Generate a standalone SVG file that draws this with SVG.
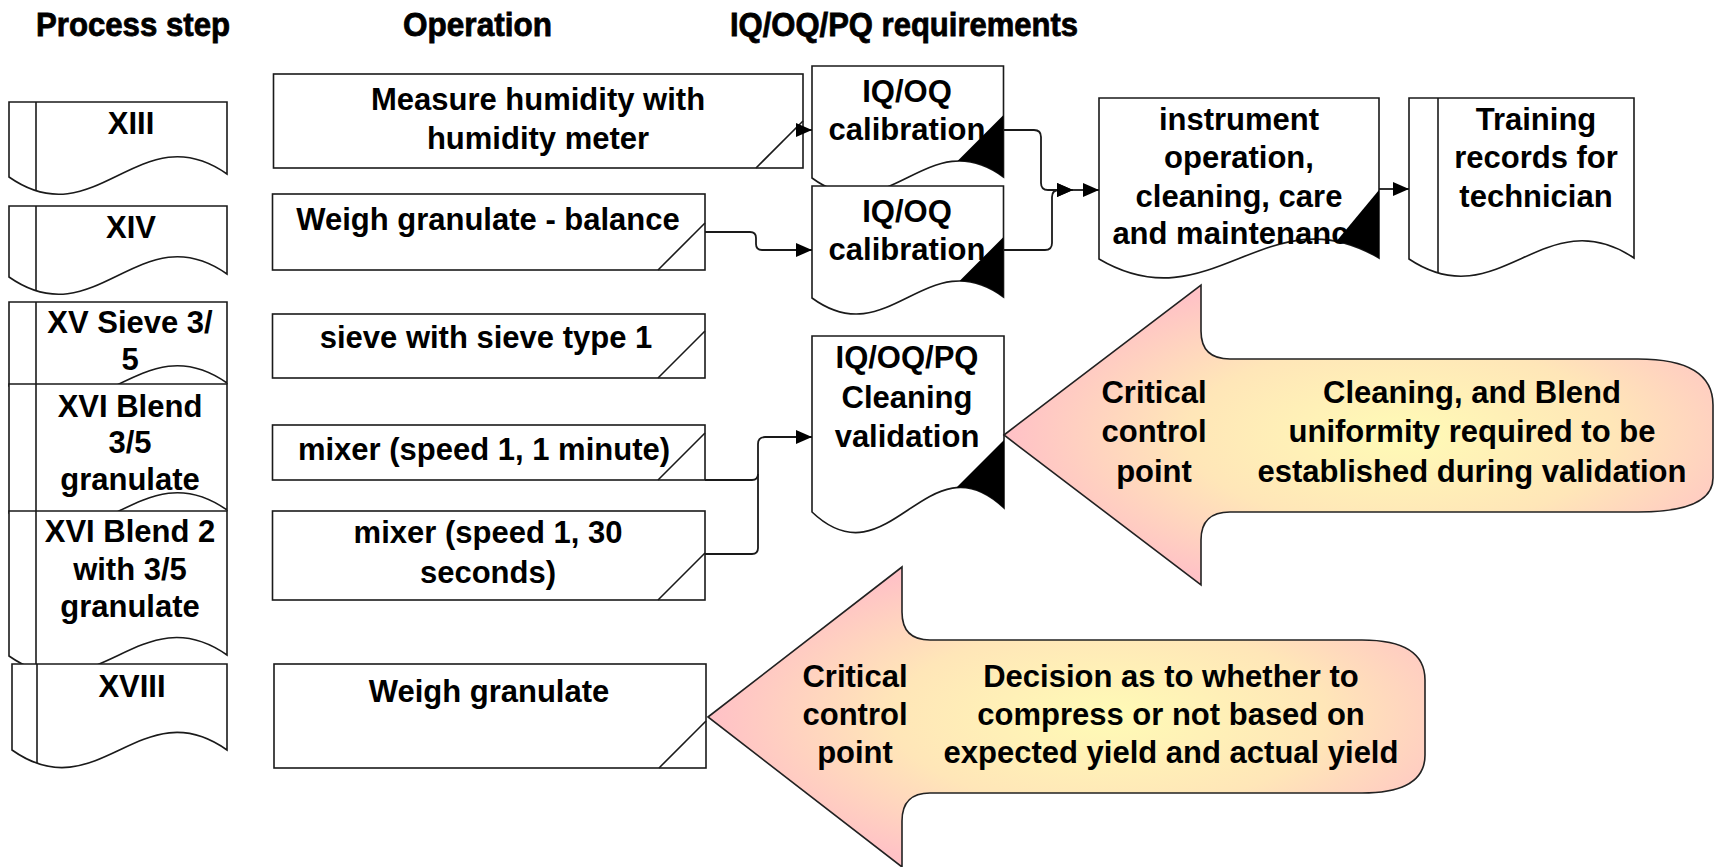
<svg xmlns="http://www.w3.org/2000/svg" xmlns:xlink="http://www.w3.org/1999/xlink" width="1719" height="867" viewBox="0 0 1719 867">
<style>
.shape{fill:#fff;stroke:#1a1a1a;stroke-width:1.6}
.ln{fill:none;stroke:#1a1a1a;stroke-width:1.6}
.con{fill:none;stroke:#1a1a1a;stroke-width:1.8}
.blk{fill:#000}
.t{font-family:"Liberation Sans",Arial,sans-serif;font-weight:bold;font-size:31px;text-anchor:middle;fill:#000}
.h{font-family:"Liberation Sans",Arial,sans-serif;font-weight:bold;font-size:34px;fill:#000;stroke:#000;stroke-width:0.8}
.call{fill:url(#grad);stroke:#222;stroke-width:1.6}
</style>
<defs>
<radialGradient id="grad" cx="0.56" cy="0.5" r="0.55">
<stop offset="0" stop-color="#FFFBB6"/>
<stop offset="0.55" stop-color="#FFE6B8"/>
<stop offset="1" stop-color="#FFC2C6"/>
</radialGradient>
<marker id="ah" markerWidth="16" markerHeight="14" refX="16" refY="7" orient="auto" markerUnits="userSpaceOnUse"><path d="M0,0 L16,7 L0,14 Z" fill="#000"/></marker>
<path id="p13" d="M9,102 H227 V174 C139.8,113 96.2,238 9,177 Z"/>
<path id="p14" d="M9,206 H227 V274 C139.8,213 96.2,338 9,277 Z"/>
<path id="p15" d="M9,302 H227 V383 C139.8,322 96.2,447 9,386 Z"/>
<path id="p16" d="M9,384 H227 V510 C139.8,449 96.2,574 9,513 Z"/>
<path id="p16b" d="M9,511 H227 V655 C139.8,594 96.2,717 9,656 Z"/>
<path id="p18" d="M12,664 H227 V750 C141,689 98,811 12,750 Z"/>
<path id="q1" d="M812,66 H1003.5 V177 C926.9,121 888.6,234 812,178 Z"/>
<path id="q2" d="M812,186 H1003.5 V297 C926.9,241 888.6,354 812,298 Z"/>
<path id="q3" d="M812,336 H1004 V508 C927.2,435 888.8,585 812,512 Z"/>
<path id="pin" d="M1099,98 H1379 V258 C1267,192 1211,325 1099,259 Z"/>
<path id="ptr" d="M1409,98 H1634 V258 C1544,198 1499,319 1409,259 Z"/>
<clipPath id="c13"><use xlink:href="#p13"/></clipPath>
<clipPath id="c14"><use xlink:href="#p14"/></clipPath>
<clipPath id="c15"><use xlink:href="#p15"/></clipPath>
<clipPath id="c16"><use xlink:href="#p16"/></clipPath>
<clipPath id="c16b"><use xlink:href="#p16b"/></clipPath>
<clipPath id="c18"><use xlink:href="#p18"/></clipPath>
<clipPath id="cq1"><use xlink:href="#q1"/></clipPath>
<clipPath id="cq2"><use xlink:href="#q2"/></clipPath>
<clipPath id="cq3"><use xlink:href="#q3"/></clipPath>
<clipPath id="cin"><use xlink:href="#pin"/></clipPath>
<clipPath id="ctr"><use xlink:href="#ptr"/></clipPath>
</defs>
<rect width="1719" height="867" fill="#fff"/>

<g id="headers">
<text class="h" x="36" y="36" textLength="194" lengthAdjust="spacingAndGlyphs">Process step</text>
<text class="h" x="403" y="36" textLength="149" lengthAdjust="spacingAndGlyphs">Operation</text>
<text class="h" x="730" y="36" textLength="348" lengthAdjust="spacingAndGlyphs">IQ/OQ/PQ requirements</text>
</g>

<g id="step-xiii">
<use xlink:href="#p13" class="shape"/>
<line class="ln" x1="36" y1="102" x2="36" y2="300" clip-path="url(#c13)"/>
<text class="t" x="131" y="134">XIII</text>
</g>
<g id="step-xiv">
<use xlink:href="#p14" class="shape"/>
<line class="ln" x1="36" y1="206" x2="36" y2="400" clip-path="url(#c14)"/>
<text class="t" x="131" y="238">XIV</text>
</g>
<g id="step-xv">
<use xlink:href="#p15" class="shape"/>
<line class="ln" x1="36" y1="302" x2="36" y2="500" clip-path="url(#c15)"/>
<text class="t" x="130" y="333">XV Sieve 3/</text>
<text class="t" x="130" y="370">5</text>
</g>
<g id="step-xvi">
<use xlink:href="#p16" class="shape"/>
<line class="ln" x1="36" y1="384" x2="36" y2="600" clip-path="url(#c16)"/>
<text class="t" x="130" y="417">XVI Blend</text>
<text class="t" x="130" y="453">3/5</text>
<text class="t" x="130" y="490">granulate</text>
</g>
<g id="step-xvi-2">
<use xlink:href="#p16b" class="shape"/>
<line class="ln" x1="36" y1="511" x2="36" y2="720" clip-path="url(#c16b)"/>
<text class="t" x="130" y="542">XVI Blend 2</text>
<text class="t" x="130" y="580">with 3/5</text>
<text class="t" x="130" y="617">granulate</text>
</g>
<g id="step-xviii">
<use xlink:href="#p18" class="shape"/>
<line class="ln" x1="37" y1="664" x2="37" y2="867" clip-path="url(#c18)"/>
<text class="t" x="132" y="697">XVIII</text>
</g>

<g id="op-humidity">
<rect class="shape" x="273.5" y="74" width="529.5" height="94"/>
<line class="ln" x1="756" y1="168" x2="803" y2="121"/>
<text class="t" x="538" y="110">Measure humidity with</text>
<text class="t" x="538" y="149">humidity meter</text>
</g>
<g id="op-weigh-balance">
<rect class="shape" x="272.5" y="194" width="432.5" height="76"/>
<line class="ln" x1="658" y1="270" x2="705" y2="223"/>
<text class="t" x="488" y="230">Weigh granulate - balance</text>
</g>
<g id="op-sieve">
<rect class="shape" x="272.5" y="314" width="432.5" height="64"/>
<line class="ln" x1="658" y1="378" x2="705" y2="331"/>
<text class="t" x="486" y="348">sieve with sieve type 1</text>
</g>
<g id="op-mixer-1min">
<rect class="shape" x="272.5" y="425" width="432.5" height="55"/>
<line class="ln" x1="658" y1="480" x2="705" y2="433"/>
<text class="t" x="484" y="460">mixer (speed 1, 1 minute)</text>
</g>
<g id="op-mixer-30s">
<rect class="shape" x="272.5" y="511" width="432.5" height="89"/>
<line class="ln" x1="658" y1="600" x2="705" y2="553"/>
<text class="t" x="488" y="543">mixer (speed 1, 30</text>
<text class="t" x="488" y="583">seconds)</text>
</g>
<g id="op-weigh">
<rect class="shape" x="274" y="664" width="432" height="104"/>
<line class="ln" x1="659" y1="768" x2="706" y2="721"/>
<text class="t" x="489" y="702">Weigh granulate</text>
</g>

<g id="iq-calib-1">
<use xlink:href="#q1" class="shape"/>
<text class="t" x="907" y="102">IQ/OQ</text>
<text class="t" x="907" y="140">calibration</text>
<polygon class="blk" points="1003.5,115 903.5,215 1003.5,215" clip-path="url(#cq1)"/>
</g>
<g id="iq-calib-2">
<use xlink:href="#q2" class="shape"/>
<text class="t" x="907" y="222">IQ/OQ</text>
<text class="t" x="907" y="260">calibration</text>
<polygon class="blk" points="1003.5,237 903.5,337 1003.5,337" clip-path="url(#cq2)"/>
</g>
<g id="iq-cleaning">
<use xlink:href="#q3" class="shape"/>
<text class="t" x="907" y="368">IQ/OQ/PQ</text>
<text class="t" x="907" y="408">Cleaning</text>
<text class="t" x="907" y="447">validation</text>
<polygon class="blk" points="1004,440 904,540 1004,540" clip-path="url(#cq3)"/>
</g>
<g id="instrument">
<use xlink:href="#pin" class="shape"/>
<text class="t" x="1239" y="130">instrument</text>
<text class="t" x="1239" y="168">operation,</text>
<text class="t" x="1239" y="207">cleaning, care</text>
<text class="t" x="1239" y="244">and maintenance</text>
<polygon class="blk" points="1379,190 1296,290 1379,290" clip-path="url(#cin)"/>
</g>
<g id="training">
<use xlink:href="#ptr" class="shape"/>
<line class="ln" x1="1438" y1="98" x2="1438" y2="320" clip-path="url(#ctr)"/>
<text class="t" x="1536" y="130">Training</text>
<text class="t" x="1536" y="168">records for</text>
<text class="t" x="1536" y="207">technician</text>
</g>

<g id="callout-1">
<path class="call" d="M1004,435 L1201,285 L1201,331 Q1201,359 1230,359 L1638,359 Q1713,359 1713,405 L1713,478 Q1713,512 1638,512 L1230,512 Q1201,512 1201,540 L1201,585 Z"/>
<text class="t" x="1154" y="403">Critical</text>
<text class="t" x="1154" y="442">control</text>
<text class="t" x="1154" y="482">point</text>
<text class="t" x="1472" y="403">Cleaning, and Blend</text>
<text class="t" x="1472" y="442">uniformity required to be</text>
<text class="t" x="1472" y="482">established during validation</text>
</g>
<g id="callout-2">
<path class="call" d="M708,717 L902,567 L902,612 Q902,640 930,640 L1362,640 Q1425,640 1425,680 L1425,755 Q1425,793 1362,793 L930,793 Q902,793 902,821 L902,867 Z"/>
<text class="t" x="855" y="687">Critical</text>
<text class="t" x="855" y="725">control</text>
<text class="t" x="855" y="763">point</text>
<text class="t" x="1171" y="687">Decision as to whether to</text>
<text class="t" x="1171" y="725">compress or not based on</text>
<text class="t" x="1171" y="763">expected yield and actual yield</text>
</g>

<g id="connectors">
<path class="con" d="M796,130 H812" marker-end="url(#ah)"/>
<path class="con" d="M705,232 H750 Q756,232 756,238 V244 Q756,250 762,250 H812" marker-end="url(#ah)"/>
<path class="con" d="M705,480 H752 Q758,480 758,474 V444 Q758,437 765,437 H812" marker-end="url(#ah)"/>
<path class="con" d="M705,554 H752 Q758,554 758,548 V474"/>
<path class="con" d="M1003.5,130 H1034 Q1041,130 1041,137 V183 Q1041,190 1048,190 H1073" marker-end="url(#ah)"/>
<path class="con" d="M1003.5,250 H1045 Q1052,250 1052,243 V197 Q1052,190 1059,190 H1073" marker-end="url(#ah)"/>
<path class="con" d="M1073,190 H1099" marker-end="url(#ah)"/>
<path class="con" d="M1379,189 H1409" marker-end="url(#ah)"/>
</g>
</svg>
